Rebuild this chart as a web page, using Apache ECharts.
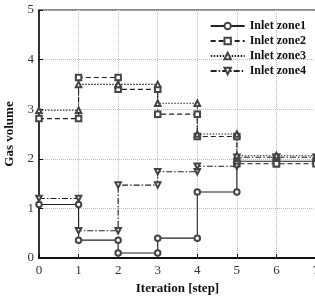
<!DOCTYPE html>
<html>
<head>
<meta charset="utf-8">
<script src="https://cdn.jsdelivr.net/npm/echarts@6/dist/echarts.min.js"></script>
<style>
  html, body { margin: 0; padding: 0; background: #fff; }
  #chart { width: 315px; height: 300px; }
</style>
</head>
<body>
<div id="chart"></div>
<script>
// level held during each iteration step (step i runs from i to i+1)
var steps = [0, 1, 2, 3, 4, 5, 6];
var zone1 = [1.08, 0.36, 0.10, 0.40, 1.33, 1.95, 1.95];
var zone2 = [2.81, 3.64, 3.40, 2.90, 2.45, 1.90, 1.90];
var zone3 = [2.98, 3.50, 3.50, 3.12, 2.50, 2.06, 2.06];
var zone4 = [1.20, 0.55, 1.47, 1.74, 1.85, 2.03, 2.03];
var names = ['Inlet zone1', 'Inlet zone2', 'Inlet zone3', 'Inlet zone4'];

function toSteps(levels) {
    var pts = [];
    steps.forEach(function (s, i) {
        pts.push([s, levels[i]]);
        pts.push([s + 1, levels[i]]);
    });
    return pts;
}

var font = 'Liberation Serif';
var chart = echarts.init(document.getElementById('chart'));

function mkSeries(name, levels, symbol, rotate, dash) {
    return {
        name: name,
        type: 'line',
        data: toSteps(levels),
        symbol: symbol,
        symbolRotate: rotate,
        symbolSize: 5.5,
        showAllSymbol: true,
        animation: false,
        itemStyle: { color: '#444', borderWidth: 1 },
        lineStyle: { color: '#222', width: 1.1, type: dash }
    };
}

var option = {
    animation: false,
    grid: {
        left: 39, right: -1, top: 10, bottom: 42,
        outerBoundsMode: 'none',
        show: true, borderColor: '#111', borderWidth: 1
    },
    legend: {
        orient: 'vertical',
        right: 4, top: 15,
        itemWidth: 34, itemHeight: 8, itemGap: 3,
        data: names,
        textStyle: { fontFamily: font, fontWeight: 'bold', fontSize: 12, color: '#111' }
    },
    xAxis: {
        type: 'value',
        min: 0, max: 7, interval: 1,
        name: 'Iteration [step]',
        nameLocation: 'middle',
        nameGap: 24,
        nameTextStyle: { fontFamily: font, fontWeight: 'bold', fontSize: 13, color: '#111' },
        axisLine: { lineStyle: { color: '#111', width: 2 } },
        axisTick: { inside: true, length: 4, lineStyle: { color: '#111' } },
        axisLabel: { fontFamily: font, fontSize: 13, color: '#333', margin: 6 },
        splitLine: { lineStyle: { color: '#bbb', type: 'dotted' } }
    },
    yAxis: {
        type: 'value',
        min: 0, max: 5, interval: 1,
        name: 'Gas volume',
        nameLocation: 'middle',
        nameGap: 22,
        nameTextStyle: { fontFamily: font, fontWeight: 'bold', fontSize: 13, color: '#111' },
        axisLine: { show: true, lineStyle: { color: '#111', width: 1.5 } },
        axisTick: { show: true, inside: true, length: 4, lineStyle: { color: '#111' } },
        axisLabel: { fontFamily: font, fontSize: 13, color: '#333', margin: 5 },
        splitLine: { lineStyle: { color: '#bbb', type: 'dotted' } }
    },
    series: [
        mkSeries(names[0], zone1, 'emptyCircle', 0, 'solid'),
        mkSeries(names[1], zone2, 'emptyRect', 0, [5, 3]),
        mkSeries(names[2], zone3, 'emptyTriangle', 0, [1.5, 1.5]),
        mkSeries(names[3], zone4, 'emptyTriangle', 180, [6, 2, 1.5, 2])
    ]
};
chart.setOption(option);
</script>
</body>
</html>
